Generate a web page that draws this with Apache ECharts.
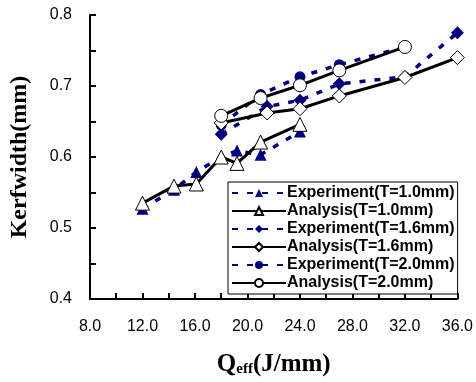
<!DOCTYPE html>
<html>
<head>
<meta charset="utf-8">
<script src="https://cdn.jsdelivr.net/npm/echarts@6/dist/echarts.min.js"></script>
<style>html,body{margin:0;padding:0;background:#fff;}#c{width:476px;height:382px;}</style>
</head>
<body>
<div id="c"></div>
<script>
// Data
const q1Exp = [12, 14.4, 16.1, 18, 19.2, 21, 24];
const w1Exp = [0.527, 0.554, 0.579, 0.600, 0.609, 0.603, 0.636];
const q1Ana = [12, 14.4, 16.1, 18, 19.2, 21, 24];
const w1Ana = [0.535, 0.559, 0.562, 0.600, 0.591, 0.621, 0.646];

const q16Exp = [18, 21.5, 24, 27, 32, 36];
const w16Exp = [0.632, 0.671, 0.680, 0.703, 0.713, 0.775];
const q16Ana = [18, 21.5, 24, 27, 32, 36];
const w16Ana = [0.648, 0.662, 0.668, 0.686, 0.712, 0.740];

const q2Exp = [18, 21, 24, 27, 32];
const w2Exp = [0.645, 0.688, 0.713, 0.730, 0.755];
const q2Ana = [18, 21, 24, 27, 32];
const w2Ana = [0.658, 0.683, 0.701, 0.722, 0.755];

const seriesNames = ['Experiment(T=1.0mm)', 'Analysis(T=1.0mm)', 'Experiment(T=1.6mm)', 'Analysis(T=1.6mm)', 'Experiment(T=2.0mm)', 'Analysis(T=2.0mm)'];

const zip = (xs, ys) => xs.map((x, i) => [x, ys[i]]);
const NAVY = '#00007f';

function expSeries(name, xs, ys, symbol, size) {
  return {
    name, type: 'line', data: zip(xs, ys), symbol, symbolSize: size, z: 2,
    lineStyle: { color: NAVY, width: 3.5, type: [6, 9] },
    itemStyle: { color: NAVY, borderColor: NAVY, borderWidth: 0 },
    emphasis: { disabled: true }
  };
}
function anaSeries(name, xs, ys, symbol, size) {
  return {
    name, type: 'line', data: zip(xs, ys), symbol, symbolSize: size, z: 3,
    lineStyle: { color: '#000', width: 3, type: 'solid' },
    itemStyle: { color: '#fff', borderColor: '#000', borderWidth: 1 },
    emphasis: { disabled: true }
  };
}

const chart = echarts.init(document.getElementById('c'), null, { renderer: 'canvas' });
const tickFont = { fontFamily: 'Liberation Sans, Arial, sans-serif', fontSize: 16, color: '#000' };
const serif = 'Liberation Serif, Times New Roman, serif';
chart.setOption({
  animation: false,
  backgroundColor: '#fff',
  grid: { left: 90, right: 16, top: 15, bottom: 77 },
  xAxis: {
    type: 'value', min: 8, max: 36, interval: 4,
    axisLine: { lineStyle: { color: '#000', width: 2 } },
    axisTick: { inside: true, length: 6, lineStyle: { color: '#000', width: 2 } },
    minorTick: { show: true, splitNumber: 2, length: 6, lineStyle: { color: '#000', width: 2 } },
    splitLine: { show: false },
    axisLabel: Object.assign({ margin: 20, formatter: v => v.toFixed(1) }, tickFont),
    name: '{q|Q}{s|eff}{q|(J/mm)}', nameLocation: 'middle', nameGap: 50,
    nameTextStyle: {
      rich: {
        q: { fontFamily: serif, fontWeight: 'bold', fontSize: 25, color: '#000', lineHeight: 28, verticalAlign: 'bottom' },
        s: { fontFamily: serif, fontWeight: 'bold', fontSize: 15, color: '#000', lineHeight: 14, verticalAlign: 'bottom' }
      }
    }
  },
  yAxis: {
    type: 'value', min: 0.4, max: 0.8, interval: 0.1,
    axisLine: { show: true, lineStyle: { color: '#000', width: 2 } },
    axisTick: { show: true, inside: true, length: 6, lineStyle: { color: '#000', width: 2 } },
    minorTick: { show: true, splitNumber: 2, length: 6, lineStyle: { color: '#000', width: 2 } },
    splitLine: { show: false },
    axisLabel: Object.assign({ margin: 18, formatter: v => v.toFixed(1) }, tickFont),
    name: 'Kerfwidth(mm)', nameLocation: 'middle', nameGap: 58, nameRotate: 90,
    nameTextStyle: { fontFamily: serif, fontWeight: 'bold', fontSize: 24, color: '#000' }
  },
  legend: {
    data: seriesNames,
    orient: 'vertical', left: 228, top: 182,
    backgroundColor: '#fff', borderColor: '#000', borderWidth: 1, borderRadius: 0,
    padding: [3, 3, 3, 3], itemGap: 2, itemWidth: 54, itemHeight: 10,
    textStyle: { fontFamily: 'Liberation Sans Narrow, Arial Narrow, Liberation Sans, Arial, sans-serif', fontWeight: 'bold', fontSize: 16, color: '#000', padding: [0, 0, 0, -4] },
    selectedMode: false
  },
  series: [
    expSeries(seriesNames[0], q1Exp, w1Exp, 'triangle', 12),
    anaSeries(seriesNames[1], q1Ana, w1Ana, 'triangle', 14),
    expSeries(seriesNames[2], q16Exp, w16Exp, 'diamond', 13),
    anaSeries(seriesNames[3], q16Ana, w16Ana, 'diamond', 14),
    expSeries(seriesNames[4], q2Exp, w2Exp, 'circle', 11),
    anaSeries(seriesNames[5], q2Ana, w2Ana, 'circle', 13)
  ]
});
</script>
</body>
</html>
